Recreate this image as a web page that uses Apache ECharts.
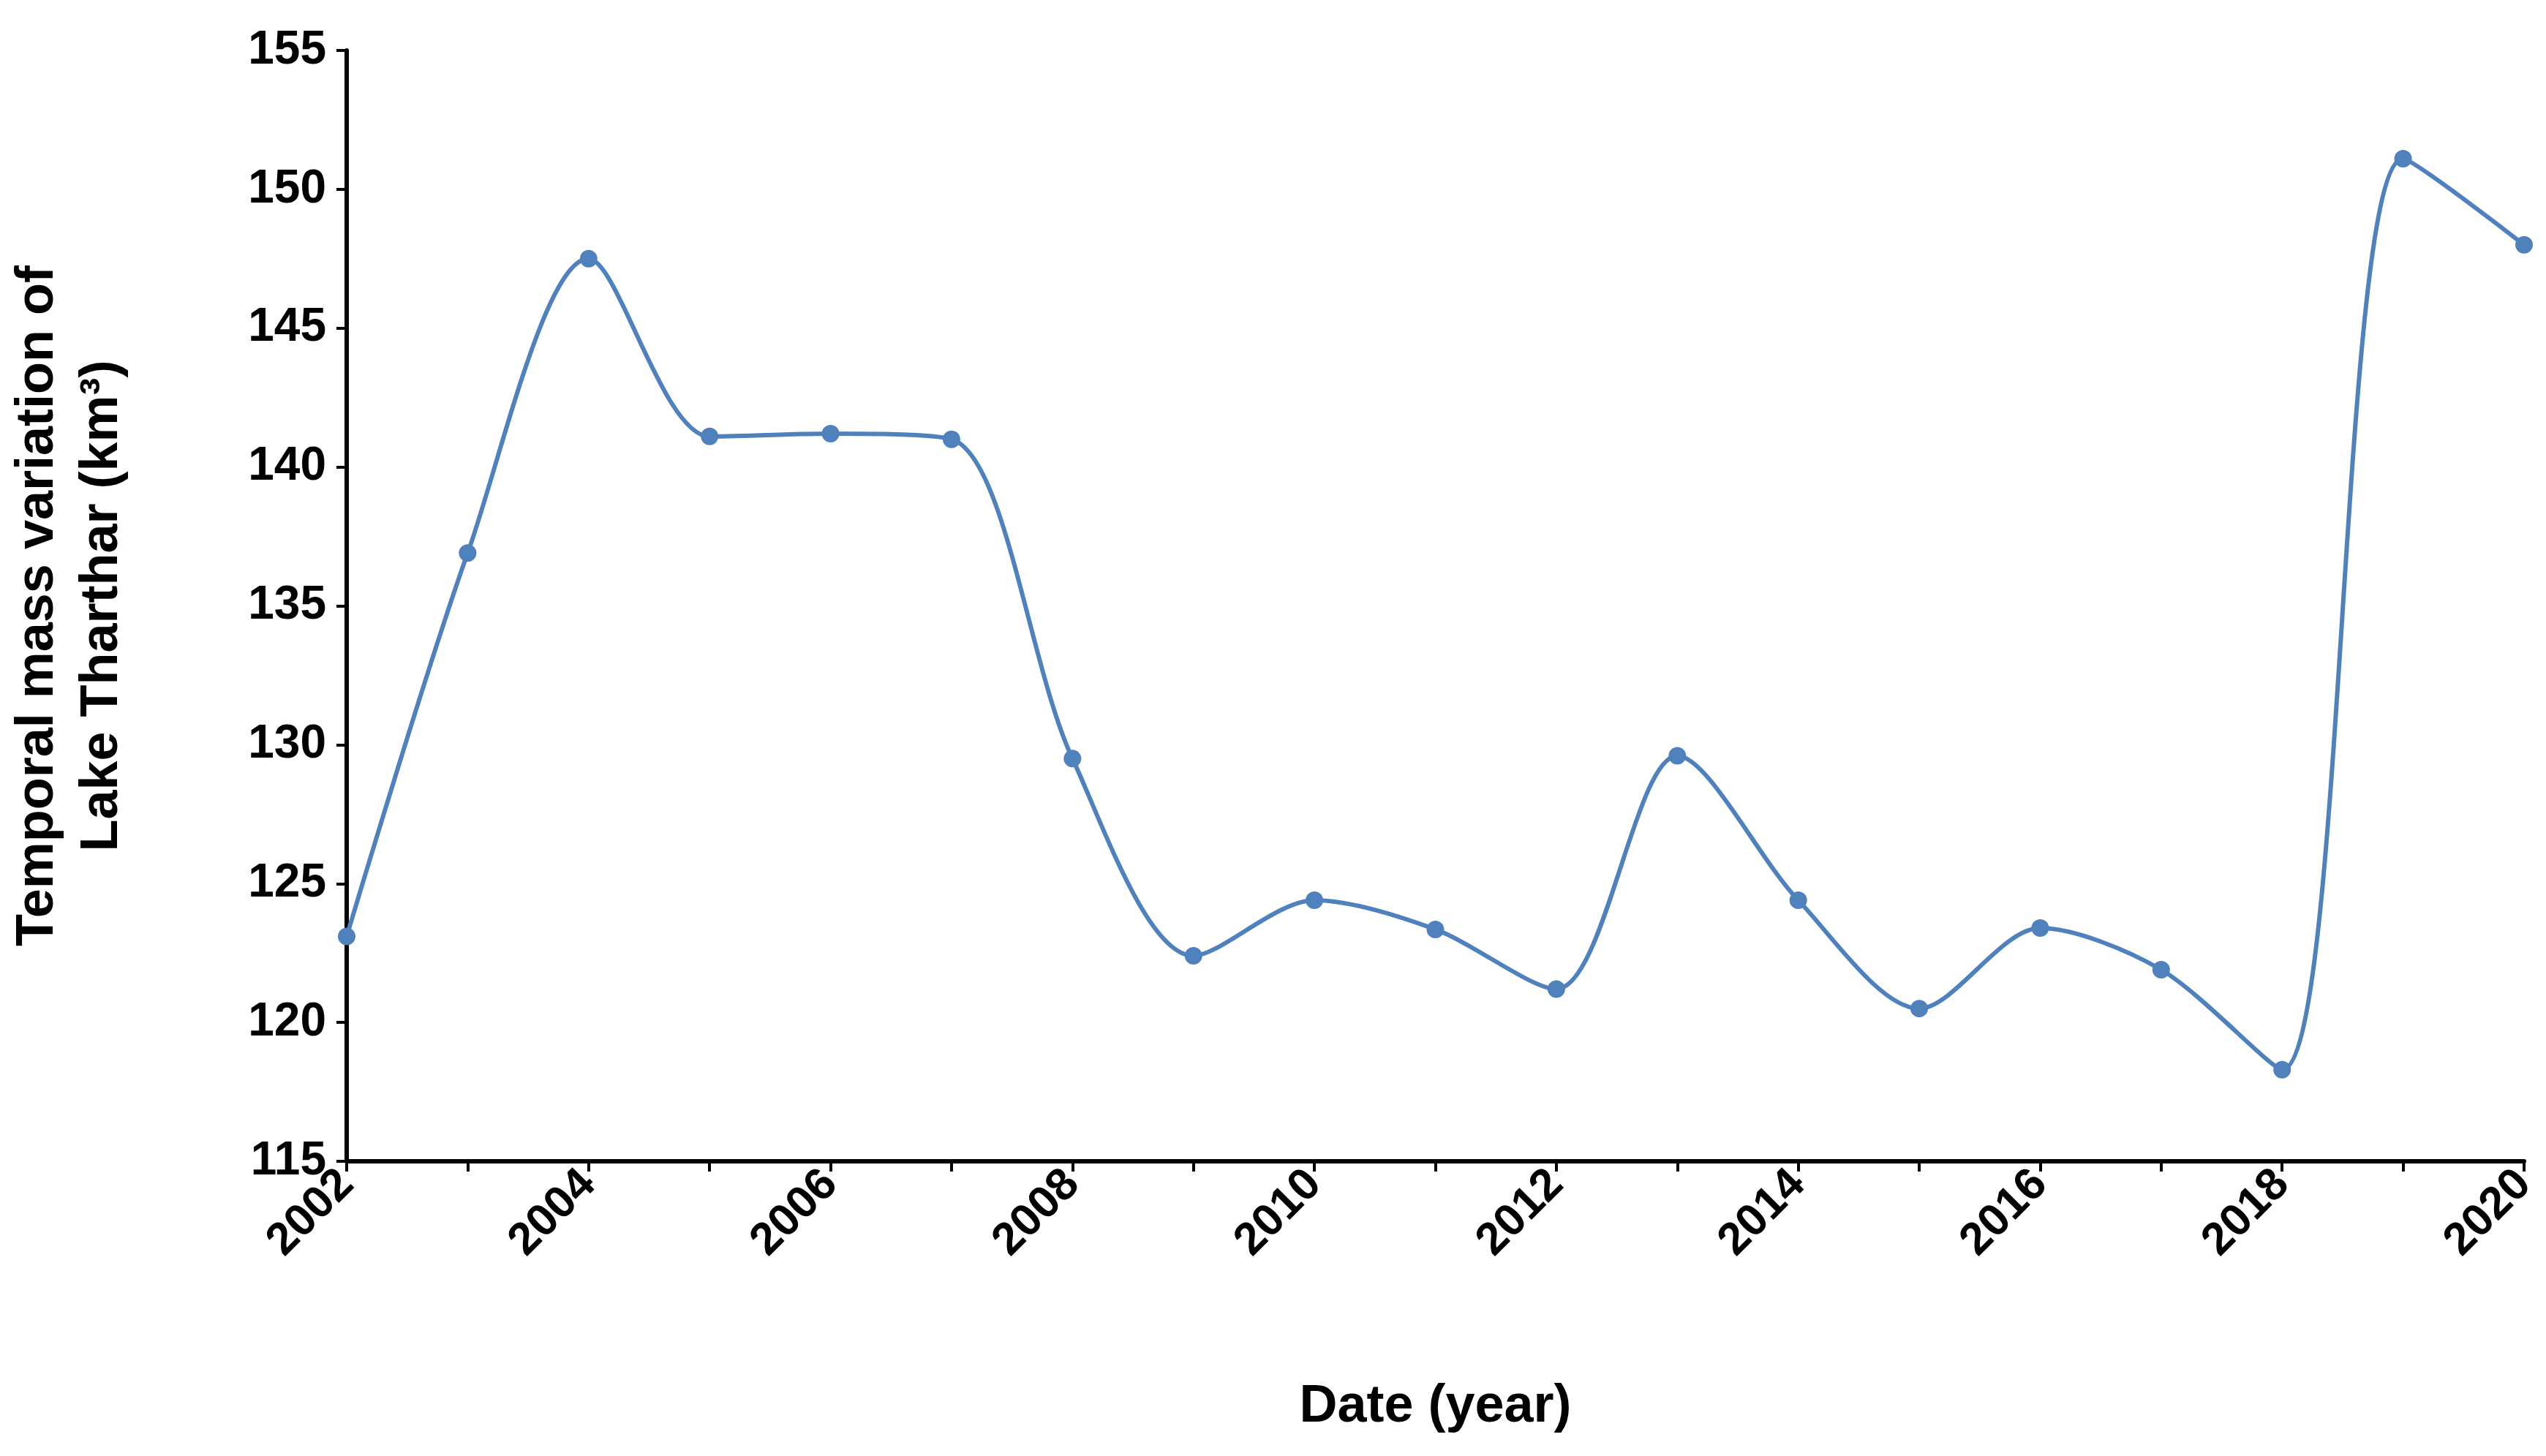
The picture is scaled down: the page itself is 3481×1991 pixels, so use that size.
<!DOCTYPE html>
<html><head><meta charset="utf-8">
<script src="https://cdn.jsdelivr.net/npm/echarts@6/dist/echarts.min.js"></script>
<style>html,body{margin:0;background:#fff}#c{width:3481px;height:1991px}</style>
</head><body><div id="c"></div>
<script>
const years=[2002,2003,2004,2005,2006,2007,2008,2009,2010,2011,2012,2013,2014,2015,2016,2017,2018,2019,2020];
const values=[123.1,136.9,147.5,141.1,141.2,141.0,129.5,122.4,124.4,123.35,121.2,129.6,124.4,120.5,123.4,121.9,118.3,151.1,148.0];
const chart=echarts.init(document.getElementById('c'));
const F='"Liberation Sans", Arial, sans-serif';
chart.setOption({
 grid:{left:469,right:30,top:69,bottom:403},
 xAxis:{type:'value',min:2002,max:2020,interval:2,
  name:'Date (year)',nameLocation:'middle',nameGap:300,
  nameTextStyle:{fontFamily:F,fontWeight:'bold',fontSize:72,color:'#000'},
  axisLine:{lineStyle:{color:'#000',width:6}},
  axisTick:{show:true,length:14,lineStyle:{color:'#000',width:4}},
  minorTick:{show:true,splitNumber:2,length:14,lineStyle:{color:'#000',width:4}},
  splitLine:{show:false},
  axisLabel:{rotate:45,fontFamily:F,fontWeight:'bold',fontSize:62,color:'#000',margin:22,formatter:v=>String(v)}},
 yAxis:{type:'value',min:115,max:155,interval:5,
  name:'Temporal mass variation of\nLake Tharthar (km³)',nameLocation:'middle',nameGap:290,
  nameTextStyle:{fontFamily:F,fontWeight:'bold',fontSize:72,color:'#000',lineHeight:88},
  axisLine:{show:true,lineStyle:{color:'#000',width:6}},
  axisTick:{show:true,length:14,lineStyle:{color:'#000',width:4}},
  splitLine:{show:false},
  axisLabel:{fontFamily:F,fontWeight:'bold',fontSize:64,color:'#000',margin:28}},
 series:[{type:'line',data:years.map((y,i)=>[y,values[i]]),smooth:0.3,
  symbol:'circle',symbolSize:24,
  lineStyle:{color:'#4f81bd',width:6},itemStyle:{color:'#4f81bd'}}]
});
</script></body></html>
